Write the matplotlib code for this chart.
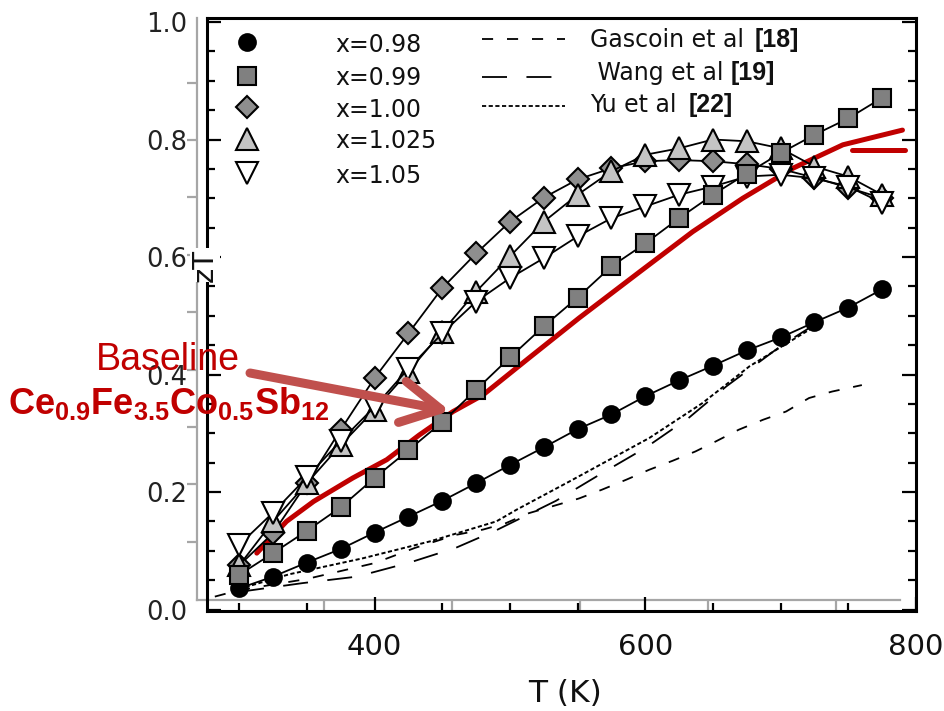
import matplotlib
matplotlib.use('Agg')
import matplotlib.pyplot as plt
from matplotlib.lines import Line2D

plt.rcParams['lines.scale_dashes'] = False
plt.rcParams['mathtext.fontset'] = 'custom'
plt.rcParams['mathtext.bf'] = 'Liberation Sans:bold'
plt.rcParams['mathtext.rm'] = 'Liberation Sans'
plt.rcParams['mathtext.it'] = 'Liberation Sans:italic'
plt.rcParams['font.family'] = ['DejaVu Sans']

# ---------------- data ----------------
T = [300, 325, 350, 375, 400, 425, 450, 475, 500, 525,
     550, 575, 600, 625, 650, 675, 700, 725, 750, 775]
zt_098 = [0.036, 0.056, 0.080, 0.103, 0.131, 0.158, 0.185, 0.215, 0.246, 0.276,
          0.307, 0.332, 0.363, 0.390, 0.415, 0.441, 0.463, 0.489, 0.514, 0.545]
zt_099 = [0.059, 0.096, 0.134, 0.174, 0.224, 0.271, 0.319, 0.374, 0.429, 0.482,
          0.531, 0.584, 0.623, 0.666, 0.706, 0.742, 0.777, 0.808, 0.836, 0.871]
zt_100 = [0.075, 0.130, 0.215, 0.306, 0.394, 0.470, 0.547, 0.606, 0.660, 0.701,
          0.732, 0.751, 0.763, 0.765, 0.763, 0.758, 0.750, 0.735, 0.718, 0.700]
zt_1025 = [0.075, 0.150, 0.215, 0.280, 0.340, 0.405, 0.473, 0.541, 0.601, 0.660,
           0.706, 0.746, 0.774, 0.785, 0.800, 0.797, 0.785, 0.754, 0.737, 0.706]
zt_105 = [0.110, 0.165, 0.225, 0.287, 0.345, 0.410, 0.470, 0.524, 0.564, 0.598,
          0.635, 0.666, 0.686, 0.706, 0.720, 0.737, 0.740, 0.734, 0.720, 0.692]

gascoin_T = [282, 300, 350, 400, 430, 460, 480, 497, 514, 551, 568,
             586, 603, 620, 637, 652, 669, 687, 704, 721, 738, 760]
gascoin_zt = [0.022, 0.033, 0.052, 0.079, 0.105, 0.127, 0.136, 0.147, 0.164, 0.189, 0.204,
              0.221, 0.238, 0.253, 0.269, 0.286, 0.306, 0.323, 0.337, 0.360, 0.371, 0.382]
wang_T = [300, 347, 387, 426, 460, 490, 534, 568, 600, 632, 660, 701, 721, 730]
wang_zt = [0.030, 0.045, 0.056, 0.080, 0.105, 0.135, 0.185, 0.232, 0.275, 0.326,
           0.380, 0.450, 0.479, 0.490]
yu_T = [300, 337, 391, 441, 490, 505, 544, 603, 642, 677, 701, 721, 730]
yu_zt = [0.035, 0.060, 0.087, 0.116, 0.150, 0.170, 0.218, 0.292, 0.351, 0.414,
         0.448, 0.476, 0.490]

base_T = [313, 335, 355, 384, 409, 433, 458, 480, 514, 551, 596, 635, 672, 709, 746, 790]
base_zt = [0.096, 0.150, 0.184, 0.224, 0.255, 0.297, 0.337, 0.365, 0.428, 0.496,
           0.575, 0.643, 0.700, 0.751, 0.791, 0.816]
mark_T = [753, 792]
mark_zt = [0.782, 0.782]

series_labels = ['x=0.98', 'x=0.99', 'x=1.00', 'x=1.025', 'x=1.05']
ref_labels = ['Gascoin et al', ' Wang et al', 'Yu et al']
ref_tags = ['[18]', '[19]', '[22]']
xticks_major = [400, 600, 800]
yticks_major = [0.0, 0.2, 0.4, 0.6, 0.8, 1.0]

# ---------------- figure ----------------
W, H = 945, 711
fig = plt.figure(figsize=(9.45, 7.11), dpi=100)


def fx(px):
    return px / W


def fy(py):
    return 1 - py / H


# grey overlay axes (underlying pasted chart frame)
ax2 = fig.add_axes([fx(196.7), fy(600), fx(900) - fx(196.7), fy(18) - fy(600)])
ax2.patch.set_alpha(0)
ax2.set_xlim(196.7, 900)
ax2.set_ylim(600, 18)
for s in ['top', 'right']:
    ax2.spines[s].set_visible(False)
for s in ['left', 'bottom']:
    ax2.spines[s].set_color('#a6a6a6')
    ax2.spines[s].set_linewidth(1.6)
ax2.set_xticks([324, 452, 580, 708, 836])
ax2.set_yticks([541.7, 484.3, 427, 369.6, 312.2, 254.8, 197.4, 140, 82.6])
ax2.tick_params(direction='out', length=7, width=1.6, color='#a6a6a6',
                labelbottom=False, labelleft=False)

ax = fig.add_axes([fx(206.7), fy(610.7), fx(916) - fx(206.7), fy(18) - fy(610.7)])
ax.patch.set_alpha(0)
ax.set_xlim(276, 800)
ax.set_ylim(-0.002, 1.0068)

# reference lines
ax.plot(gascoin_T, gascoin_zt, color='k', lw=1.3, dashes=(8, 10), zorder=2)
ax.plot(wang_T, wang_zt, color='k', lw=1.3, dashes=(18, 14), zorder=2)
ax.plot(yu_T, yu_zt, color='k', lw=1.4, dashes=(3, 1.8), zorder=2)

# baseline red curve
ax.plot(base_T, base_zt, color='#c00000', lw=3.6, solid_capstyle='round', zorder=3)
ax.plot(mark_T, mark_zt, color='#c00000', lw=3.6, solid_capstyle='round',
        clip_on=False, zorder=3)

styles = [
    dict(marker='o', ms=12, mfc='black'),
    dict(marker='s', ms=13, mfc='#808080'),
    dict(marker='D', ms=11, mfc='#8e8e8e'),
    dict(marker='^', ms=16, mfc='#c4c4c4'),
    dict(marker='v', ms=16, mfc='white'),
]
data = [zt_098, zt_099, zt_100, zt_1025, zt_105]
orders = [4, 6, 5, 5, 5]
for d, st, zo in zip(data, styles, orders):
    ax.plot(T, d, color='black', lw=1.3, mec='black', mew=1.5, zorder=zo, **st)

# axes styling
for s in ax.spines.values():
    s.set_linewidth(2.2)
    s.set_color('black')
ax.set_xticks(xticks_major)
ax.set_xticks(range(300, 800, 50), minor=True)
ax.set_yticks(yticks_major)
ax.set_yticks([i * 0.05 for i in range(21)], minor=True)
ax.set_xticklabels([str(v) for v in xticks_major])
ax.set_yticklabels(['%.1f' % v for v in yticks_major])
ax.tick_params(which='both', direction='in', top=False, right=True, width=1.6,
               color='black')
ax.tick_params(which='major', length=10)
ax.tick_params(which='minor', length=5.5)
ax.tick_params(axis='x', labelsize=21, pad=16, labelcolor='#111111')
ax.tick_params(axis='y', labelsize=18.5, pad=14, labelcolor='#222222')

# axis titles
fig.text(fx(565), fy(693), 'T (K)', fontsize=22.5, ha='center', va='center',
         color='#111111')
fig.text(fx(205), fy(265), 'zT', fontsize=21, rotation=90, ha='center', va='center',
         color='#111111', zorder=20,
         bbox=dict(facecolor='white', edgecolor='none', pad=0.5))

# manual legend: markers
leg_rows = [42, 76, 107, 139, 173]
leg_base = [51.7, 85, 116.7, 148.3, 183.3]
for yy, yb, st, lab in zip(leg_rows, leg_base, styles, series_labels):
    fig.add_artist(Line2D([fx(246.7)], [fy(yy)], transform=fig.transFigure,
                          ls='none', mec='black', mew=1.5, **st))
    fig.text(fx(335), fy(yb), lab, fontsize=17, ha='left', va='baseline',
             color='#111111')

# manual legend: reference lines
ref_dashes = [(8, 10), (18, 14), (3, 1.8)]
ref_rows = [39, 77, 106]
ref_base = [46.7, 80, 111.7]
ref_x = [590, 590, 590]
tag_x = [755, 731, 689]
for yy, yb, ds, lab, tag, tx, gx in zip(ref_rows, ref_base, ref_dashes, ref_labels,
                                         ref_tags, ref_x, tag_x):
    fig.add_artist(Line2D([fx(481.7), fx(565)], [fy(yy), fy(yy)],
                          transform=fig.transFigure, color='black', lw=1.3,
                          dashes=ds))
    fig.text(fx(tx), fy(yb), lab, fontsize=17, ha='left', va='baseline',
             color='#111111')
    fig.text(fx(gx), fy(yb), tag, fontsize=18, ha='left', va='baseline',
             family='Liberation Sans', weight='bold', color='#111111')

# annotation
fig.text(fx(168), fy(360), 'Baseline', fontsize=27, ha='center', va='center',
         family='Liberation Sans', color='#c00000', zorder=15)
fig.text(fx(8), fy(414), r'$\mathbf{Ce_{0.9}Fe_{3.5}Co_{0.5}Sb_{12}}$',
         fontsize=26, ha='left', va='baseline', color='#c00000', zorder=15)
ax.annotate('', xy=(fx(450), fy(411)), xycoords='figure fraction',
            xytext=(fx(250), fy(373)), textcoords='figure fraction',
            arrowprops=dict(arrowstyle='->,head_length=1.4,head_width=0.75',
                            lw=6.5, color='#c0504d', mutation_scale=20,
                            capstyle='round', joinstyle='round',
                            shrinkA=0, shrinkB=0),
            annotation_clip=False, zorder=8)

fig.savefig('out.png', dpi=100)
